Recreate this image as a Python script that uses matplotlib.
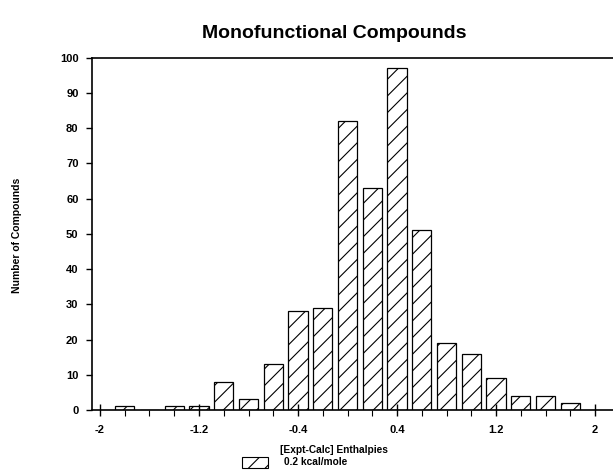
import matplotlib.pyplot as plt
import matplotlib.patches as mpatches
from matplotlib.ticker import MultipleLocator

plt.rcParams['font.family'] = ['Liberation Sans', 'DejaVu Sans']
plt.rcParams['font.weight'] = 'bold'
plt.rcParams['hatch.linewidth'] = 0.8

# bin centres (kcal/mole) and counts
centers = [-1.8, -1.6, -1.4, -1.2, -1.0, -0.8, -0.6, -0.4, -0.2, 0.0,
           0.2, 0.4, 0.6, 0.8, 1.0, 1.2, 1.4, 1.6, 1.8]
counts = [1, 0, 1, 1, 8, 3, 13, 28, 29, 82,
          63, 97, 51, 19, 16, 9, 4, 4, 2]
xticks = [-2, -1.2, -0.4, 0.4, 1.2, 2]
xticklabels = ['-2', '-1.2', '-0.4', '0.4', '1.2', '2']

fig = plt.figure(figsize=(6.13, 4.71), dpi=100)
ax = fig.add_axes([91.7/613, 1 - 410/471, 1 - 91.7/613, (410 - 57.5)/471])

ax.bar(centers, counts, width=0.155, color='white', edgecolor='black',
       linewidth=0.9, hatch='//')

ax.set_xlim(-2.067, 2.145)
ax.set_ylim(0, 100)
ax.set_xticks(xticks)
ax.set_xticklabels(xticklabels)
ax.xaxis.set_minor_locator(MultipleLocator(0.2))
ax.set_yticks(range(0, 101, 10))
ax.tick_params(axis='x', which='major', direction='inout', length=8, width=1,
               labelsize=8, pad=6.5)
ax.tick_params(axis='x', which='minor', direction='out', length=4, width=0.8)
ax.tick_params(axis='y', direction='out', length=4, width=1, labelsize=8, pad=5.5)
ax.spines['right'].set_visible(False)
for s in ['left', 'bottom', 'top']:
    ax.spines[s].set_linewidth(1.2)

fig.text(334/613, 1 - 34/471, 'Monofunctional Compounds', ha='center',
         va='center', fontsize=14, fontweight='bold')
fig.text(17/613, 1 - 235/471, 'Number of Compounds', rotation=90,
         ha='center', va='center', fontsize=7.5, fontweight='bold')

# legend key below the axis
patch = mpatches.Rectangle((242/613, 1 - 468/471), 26/613, 11/471,
                           transform=fig.transFigure, facecolor='white',
                           edgecolor='black', linewidth=0.8, hatch='//')
fig.patches.append(patch)
fig.text(280/613, 1 - 450/471, '[Expt-Calc] Enthalpies', ha='left',
         va='center', fontsize=7.3, fontweight='bold')
fig.text(284/613, 1 - 462/471, '0.2 kcal/mole', ha='left',
         va='center', fontsize=7.3, fontweight='bold')

fig.savefig('out.png', dpi=100)
